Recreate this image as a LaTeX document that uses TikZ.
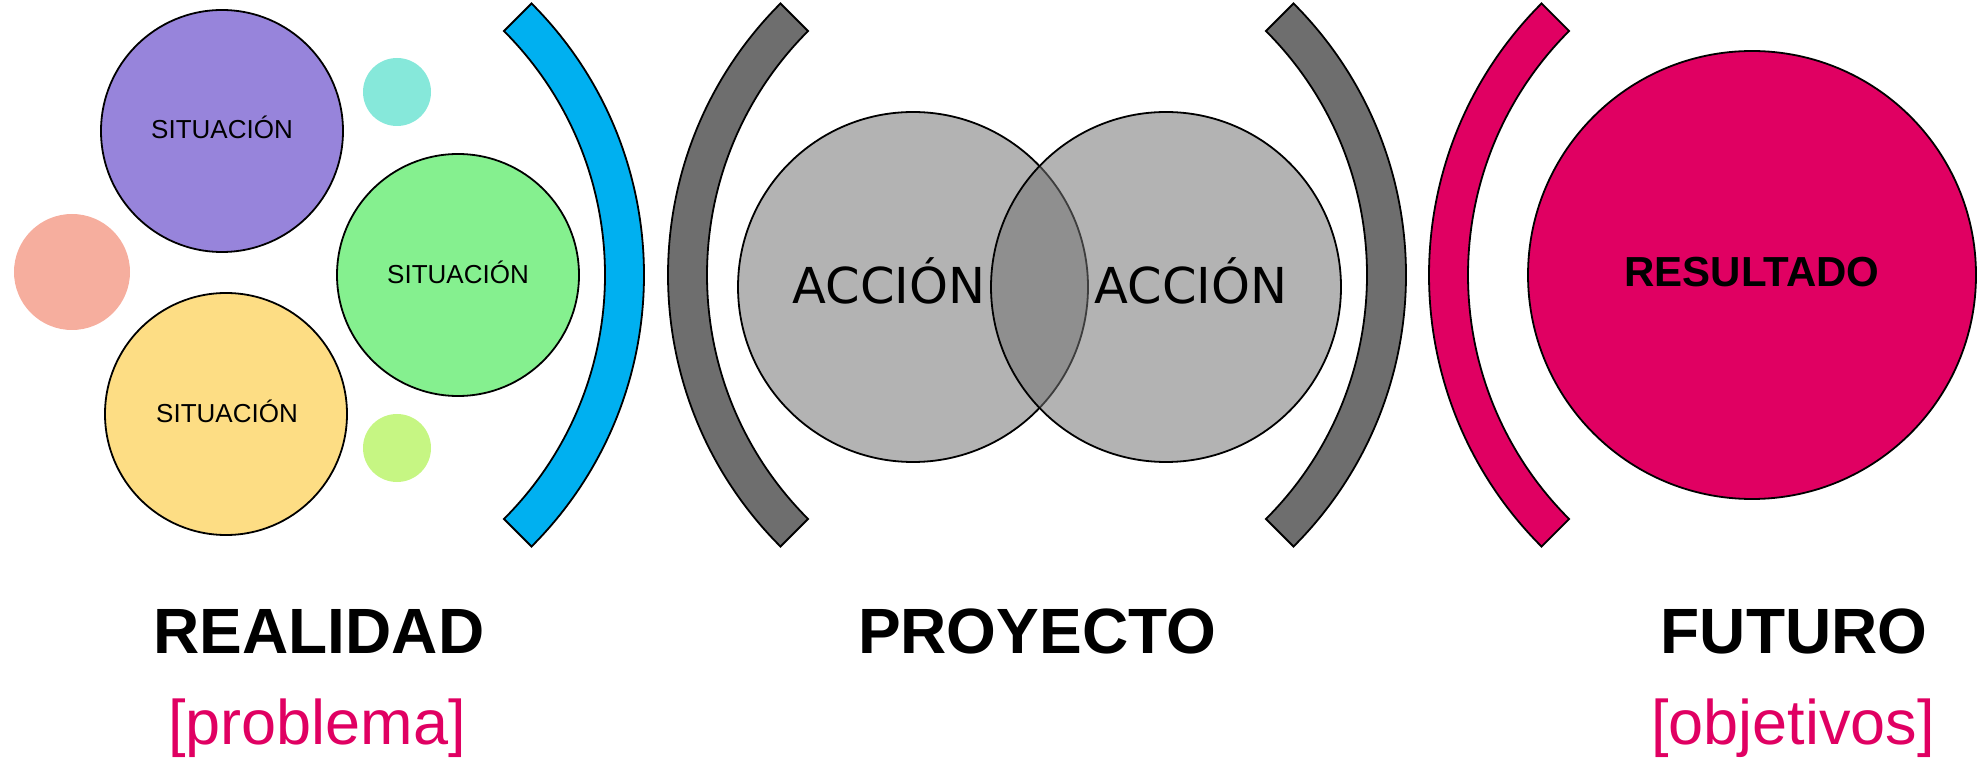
\documentclass[tikz,border=0pt]{standalone}
\usepackage{fontspec}
\setmainfont{Liberation Sans}
\newfontfamily\dejavu{DejaVu Sans}
\definecolor{cpurple}{HTML}{9784DB}
\definecolor{cgreen}{HTML}{85F08F}
\definecolor{cyellow}{HTML}{FDDD84}
\definecolor{csalmon}{HTML}{F6AE9E}
\definecolor{cteal}{HTML}{86E8DA}
\definecolor{clime}{HTML}{C6F683}
\definecolor{cblue}{HTML}{00B0F0}
\definecolor{cdgray}{HTML}{6E6E6E}
\definecolor{cpink}{HTML}{E00062}
\definecolor{clgray}{HTML}{B3B3B3}
\definecolor{cmgray}{RGB}{114,114,114}
\begin{document}
\begin{tikzpicture}[x=1pt,y=1pt,
  bigc/.style={circle,draw=black,line width=1.8pt,inner sep=0pt,minimum size=242pt},
  dotc/.style={circle,inner sep=0pt},
  bracketsh/.style={draw=black,line width=1.8pt,line join=miter},
  sitlbl/.style={anchor=base,font=\fontsize{26}{30}\selectfont,inner sep=0pt},
  acclbl/.style={anchor=base,font=\dejavu\fontsize{49.5}{56}\selectfont,inner sep=0pt},
  headlbl/.style={anchor=base,font=\bfseries\fontsize{64}{70}\selectfont,inner sep=0pt},
  sublbl/.style={anchor=base,text=cpink,font=\fontsize{63}{70}\selectfont,inner sep=0pt}]
\useasboundingbox (0,0) rectangle (1977,761);
% small circles
\node[dotc,fill=csalmon,minimum size=116pt] (d1) at (72,489) {};
\node[dotc,fill=cteal,minimum size=68pt] (d2) at (397,669) {};
\node[dotc,fill=clime,minimum size=68pt] (d3) at (397,313) {};
% situation circles
\node[bigc,fill=cpurple] (s1) at (222,630) {};
\node[bigc,fill=cgreen] (s2) at (458,486) {};
\node[bigc,fill=cyellow] (s3) at (226,347) {};
\node[sitlbl] (t1) at (222,622) {SITUACIÓN};
\node[sitlbl] (t2) at (458,477) {SITUACIÓN};
\node[sitlbl] (t3) at (227,338) {SITUACIÓN};
% brackets
\coordinate (cb) at (260,486);
\coordinate (cg1) at (1052,486);
\coordinate (cg2) at (1022,486);
\coordinate (cp) at (1813,486);
\path[bracketsh,fill=cblue] (cb) ++(45:384) arc[start angle=45,end angle=-45,radius=384]
  -- ++(135:39) arc[start angle=-45,end angle=45,radius=345] -- cycle;
\path[bracketsh,fill=cdgray] (cg1) ++(135:384) arc[start angle=135,end angle=225,radius=384]
  -- ++(45:39) arc[start angle=225,end angle=135,radius=345] -- cycle;
\path[bracketsh,fill=cdgray] (cg2) ++(45:384) arc[start angle=45,end angle=-45,radius=384]
  -- ++(135:39) arc[start angle=-45,end angle=45,radius=345] -- cycle;
\path[bracketsh,fill=cpink] (cp) ++(135:384) arc[start angle=135,end angle=225,radius=384]
  -- ++(45:39) arc[start angle=225,end angle=135,radius=345] -- cycle;
% action circles
\node[circle,draw=black,line width=1.8pt,inner sep=0pt,minimum size=350pt,fill=clgray] (a1) at (913,474) {};
\node[circle,draw=black,line width=1.8pt,inner sep=0pt,minimum size=350pt,fill=cmgray,fill opacity=0.54] (a2) at (1166,474) {};
\node[acclbl] (ta1) at (889,457) {ACCIÓN};
\node[acclbl] (ta2) at (1191,457) {ACCIÓN};
% result
\node[circle,draw=black,line width=1.8pt,inner sep=0pt,minimum size=448pt,fill=cpink] (r) at (1752,486) {};
\node[anchor=base,font=\bfseries\fontsize{42}{48}\selectfont,inner sep=0pt] (tr) at (1752,474) {RESULTADO};
% bottom labels
\node[headlbl] (h1) at (319,108) {REALIDAD};
\node[headlbl] (h2) at (1037,108) {PROYECTO};
\node[headlbl] (h3) at (1794,108) {FUTURO};
\node[sublbl] (b1) at (317,17) {[problema]};
\node[sublbl] (b3) at (1793,17) {[objetivos]};
\end{tikzpicture}
\end{document}
